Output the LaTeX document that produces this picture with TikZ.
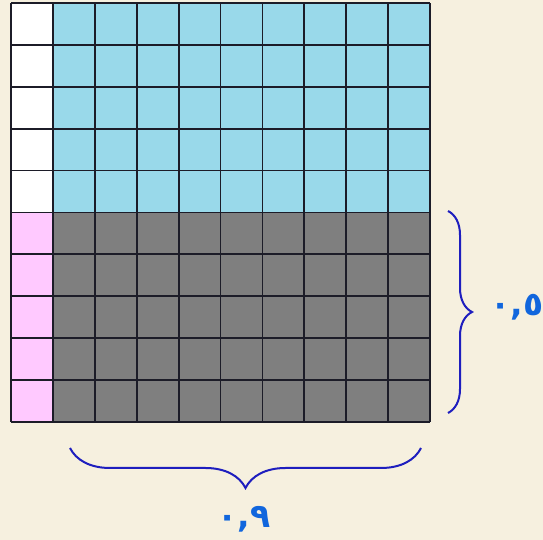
\documentclass[tikz,border=0pt]{standalone}
\usepackage{fontspec}
\usepackage{tikz}
\usepackage{xcolor}
\usetikzlibrary{
    positioning,
    calc,
    decorations.pathreplacing
}
\newfontfamily\arabicfont[Script=Arabic]{DejaVu Sans}
\definecolor{Fundo}{HTML}{F6F0DF}
\definecolor{AzulClaro}{HTML}{99D9EA}
\definecolor{Cinza}{HTML}{7F7F7F}
\definecolor{Rosa}{HTML}{FFC9FF}
\definecolor{Linha}{HTML}{1C1C28}
\definecolor{AzulChave}{HTML}{1E1EBE}
\definecolor{AzulTexto}{HTML}{1166DD}

\begin{document}
\begin{tikzpicture}[
        x=1pt,y=1pt,
        chave/.style={
            draw=AzulChave,
            line width=2pt,
            decorate,
            decoration={brace,amplitude=#1}
        },
        rotulo/.style={
            text=AzulTexto,
            inner sep=0pt,
            font=\arabicfont\bfseries\fontsize{33}{33}\selectfont
        }
    ]
    \useasboundingbox (0,0) rectangle (543,540);
    \fill[Fundo] (0,0) rectangle (543,540);

    \fill[Rosa] (11,118) rectangle (52.9,327.5);
    \fill[white] (11,327.5) rectangle (52.9,537);
    \fill[AzulClaro] (52.9,327.5) rectangle (430,537);
    \fill[Cinza] (52.9,118) rectangle (430,327.5);
    \foreach \k in {0,...,10}{
        \draw[Linha, line width=1.8pt] ({11+41.9*\k},118) -- ({11+41.9*\k},537);
        \draw[Linha, line width=1.8pt] (11,{118+41.9*\k}) -- (430,{118+41.9*\k});
    }

    \coordinate (chaveLinhasTopo) at (448,329);
    \coordinate (chaveLinhasBase) at (448,127);
    \coordinate (chaveColunasDir) at (421,92);
    \coordinate (chaveColunasEsq) at (70,92);
    \draw[chave=24pt] (chaveLinhasTopo) -- (chaveLinhasBase);
    \draw[chave=40pt] (chaveColunasDir) -- (chaveColunasEsq);

    \node[rotulo] (rotuloLinhas) at (517,233) {٠,٥};
    \node[rotulo] (rotuloColunas) at (244,21) {٠,٩};
\end{tikzpicture}
\end{document}
